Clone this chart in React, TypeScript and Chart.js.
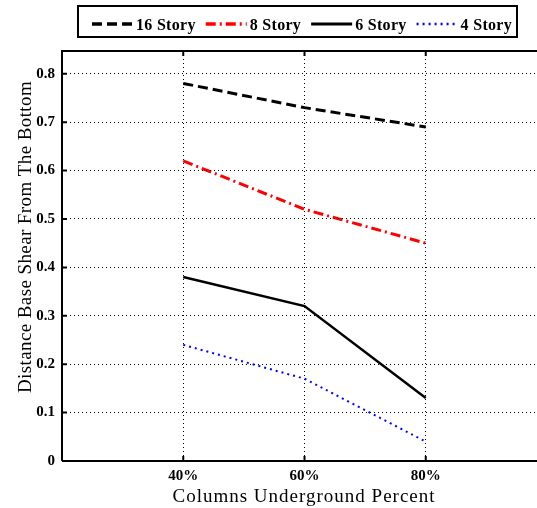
import React, { useEffect, useRef } from 'react';
import { Chart, registerables } from 'chart.js';

Chart.register(...registerables);

// ---- data ----
const categories = [40, 60, 80];
const story16 = [0.78, 0.73, 0.69];
const story8 = [0.62, 0.52, 0.45];
const story6 = [0.38, 0.32, 0.13];
const story4 = [0.24, 0.17, 0.04];
const seriesNames = ['16 Story', '8 Story', '6 Story', '4 Story'];
const yTickValues = [0, 0.1, 0.2, 0.3, 0.4, 0.5, 0.6, 0.7, 0.8];
const xTitle = 'Columns Underground Percent';
const yTitle = 'Distance Base Shear From The Bottom';

const SERIF = '"Liberation Serif", "Times New Roman", serif';
const GRID_DASH = [1, 3];

const toPoints = (vals: number[]) => categories.map((c, i) => ({ x: c, y: vals[i] }));

const framePlugin = {
  id: 'matlabFrame',
  afterDraw(chart: any) {
    const { ctx, chartArea: ca } = chart;
    const xs = chart.scales.x;
    const ys = chart.scales.y;
    ctx.save();
    // the plot box continues past the right edge of the picture: no right border
    ctx.fillStyle = '#fff';
    ctx.fillRect(ca.right - 4, ca.top + 2, 10, ca.bottom - ca.top - 4);
    ctx.strokeStyle = '#000';
    ctx.lineWidth = 1;
    ctx.setLineDash(GRID_DASH);
    ys.ticks.forEach((t: any) => {
      const py = Math.round(ys.getPixelForValue(t.value) - 0.5) + 0.5;
      ctx.beginPath();
      ctx.moveTo(ca.left, py);
      ctx.lineTo(ca.right, py);
      ctx.stroke();
    });

    ctx.lineWidth = 2;
    ctx.setLineDash([]);
    ctx.beginPath();
    ctx.moveTo(ca.left, ca.bottom);
    ctx.lineTo(ca.left, ca.top);
    ctx.lineTo(ca.right + 5, ca.top);
    ctx.moveTo(ca.left, ca.bottom);
    ctx.lineTo(ca.right + 5, ca.bottom);
    ctx.stroke();
    // inward tick marks
    ctx.beginPath();
    xs.ticks.forEach((t: any) => {
      const px = xs.getPixelForValue(t.value);
      ctx.moveTo(px, ca.bottom);
      ctx.lineTo(px, ca.bottom - 5);
      ctx.moveTo(px, ca.top);
      ctx.lineTo(px, ca.top + 5);
    });
    ys.ticks.forEach((t: any) => {
      const py = ys.getPixelForValue(t.value);
      ctx.moveTo(ca.left, py);
      ctx.lineTo(ca.left + 5, py);
    });
    ctx.stroke();

    // axis titles
    ctx.fillStyle = '#000';
    ctx.font = `19px ${SERIF}`;
    ctx.textAlign = 'center';
    ctx.textBaseline = 'alphabetic';
    (ctx as any).letterSpacing = '1px';
    ctx.fillText(xTitle, 304, 502);
    (ctx as any).letterSpacing = '0.4px';
    ctx.save();
    ctx.translate(31, 237);
    ctx.rotate(-Math.PI / 2);
    ctx.fillText(yTitle, 0, 0);
    ctx.restore();

    // legend
    (ctx as any).letterSpacing = '0.3px';
    ctx.lineWidth = 2;
    ctx.strokeRect(78, 6, 439, 31);
    ctx.font = `bold 16px ${SERIF}`;
    ctx.textAlign = 'left';
    ctx.textBaseline = 'alphabetic';
    let x = 92;
    const ly = 24;
    chart.data.datasets.forEach((ds: any) => {
      ctx.save();
      ctx.strokeStyle = ds.borderColor;
      ctx.lineWidth = ds.borderWidth + 0.5;
      ctx.setLineDash(ds.borderDash || []);
      ctx.beginPath();
      ctx.moveTo(x, ly);
      ctx.lineTo(x + 41, ly);
      ctx.stroke();
      ctx.restore();
      ctx.fillStyle = '#000';
      ctx.fillText(ds.label, x + 44, 30);
      x += 44 + ctx.measureText(ds.label).width + 10;
    });
    ctx.restore();
  },
};

export default function App() {
  const ref = useRef<HTMLCanvasElement>(null);
  useEffect(() => {
    if (!ref.current) return;
    const chart = new Chart(ref.current, {
      type: 'line',
      data: {
        datasets: [
          { label: seriesNames[0], data: toPoints(story16), borderColor: '#000000', borderWidth: 3, borderDash: [10, 5] },
          { label: seriesNames[1], data: toPoints(story8), borderColor: '#ff0000', borderWidth: 3, borderDash: [10, 4, 2, 4] },
          { label: seriesNames[2], data: toPoints(story6), borderColor: '#000000', borderWidth: 2.5, borderDash: [] },
          { label: seriesNames[3], data: toPoints(story4), borderColor: '#0000ff', borderWidth: 2, borderDash: [2, 4] },
        ] as any,
      },
      options: {
        animation: false,
        responsive: false,
        devicePixelRatio: 1,
        layout: { padding: { top: 51, right: 0, left: 0, bottom: 0 } },
        elements: { point: { radius: 0 }, line: { tension: 0 } },
        plugins: { legend: { display: false }, tooltip: { enabled: false } },
        scales: {
          x: {
            type: 'linear',
            min: 20,
            max: 98.35,
            afterBuildTicks: (s: any) => { s.ticks = categories.map((v) => ({ value: v })); },
            afterFit: (s: any) => { s.height = 47; },
            ticks: {
              color: '#000',
              font: { family: SERIF, size: 15, weight: 'bold' },
              padding: 6,
              callback: (v: any) => `${v}%`,
            },
            grid: { color: '#000', lineWidth: 1, drawTicks: false },
            border: { display: false, dash: GRID_DASH },
          },
          y: {
            type: 'linear',
            min: 0,
            max: 0.847,
            afterBuildTicks: (s: any) => { s.ticks = yTickValues.map((v) => ({ value: v })); },
            afterFit: (s: any) => { s.width = 62; },
            ticks: {
              color: '#000',
              font: { family: SERIF, size: 15, weight: 'bold' },
              padding: 7,
              callback: (v: any) => (v === 0 ? '0' : Number(v).toFixed(1)),
            },
            grid: { color: '#000', lineWidth: 1, drawTicks: false },
            border: { display: false, dash: GRID_DASH },
          },
        },
      } as any,
      plugins: [framePlugin],
    });
    return () => chart.destroy();
  }, []);
  return (
    <div style={{ position: 'fixed', left: 0, top: 0, width: 537, height: 508, overflow: 'hidden', background: '#fff' }}>
      <canvas ref={ref} width={537} height={508} style={{ display: 'block', width: 537, height: 508 }} />
    </div>
  );
}
